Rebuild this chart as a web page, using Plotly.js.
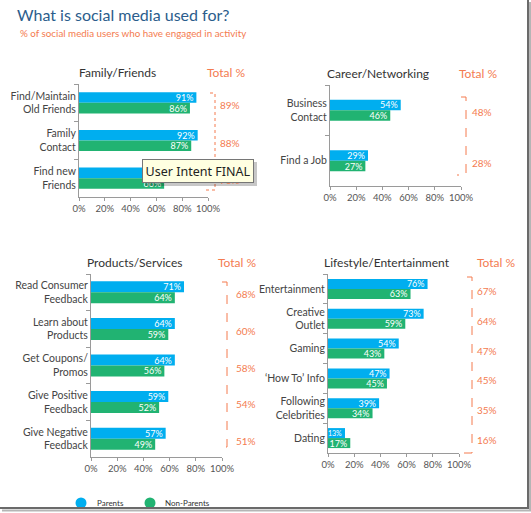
<!DOCTYPE html>
<html>
<head>
<meta charset="utf-8">
<script src="https://cdn.plot.ly/plotly-3.0.1.min.js"></script>
<style>html,body{margin:0;padding:0;background:#fff;}#chart{width:531px;height:513px;}</style>
</head>
<body>
<div id="chart"></div>
<script>
// ---- data ----
const famCats = ['Find/Maintain<br>Old Friends', 'Family<br>Contact', 'Find new<br>Friends'];
const famParents = [91, 92, 74];
const famNonParents = [86, 87, 66];
const famTotal = [89, 88, 70];

const carCats = ['Business<br>Contact', 'Find a Job'];
const carParents = [54, 29];
const carNonParents = [46, 27];
const carTotal = [48, 28];

const prodCats = ['Read Consumer<br>Feedback', 'Learn about<br>Products', 'Get Coupons/<br>Promos', 'Give Positive<br>Feedback', 'Give Negative<br>Feedback'];
const prodParents = [71, 64, 64, 59, 57];
const prodNonParents = [64, 59, 56, 52, 49];
const prodTotal = [68, 60, 58, 54, 51];

const lifeCats = ['Entertainment', 'Creative<br>Outlet', 'Gaming', '‘How To’ Info', 'Following<br>Celebrities', 'Dating'];
const lifeParents = [76, 73, 54, 47, 39, 13];
const lifeNonParents = [63, 59, 43, 45, 34, 17];
const lifeTotal = [67, 64, 47, 45, 35, 16];

const xTicks = [0, 20, 40, 60, 80, 100];
const xTickText = ['0%', '20%', '40%', '60%', '80%', '100%'];
const seriesNames = ['Parents', 'Non-Parents'];

// ---- styles ----
const BLUE = '#00aeef', GREEN = '#21b372', ORANGE = '#f47b4f', FONT = 'Lato, "Noto Sans", sans-serif';
const W = 531, H = 513;
const px = x => x / W;
const py = y => 1 - y / H;

const panels = [
  {cats: famCats, p: famParents, n: famNonParents, t: famTotal, title: 'Family/Friends', titleX: 117, totalX: 226, valX: 230,
   x0: 79, x1: 208, y0: 84, y1: 197, bar: 0.28, brX: 215, brY0: 93, brY1: 190, dash: 'dot'},
  {cats: carCats, p: carParents, n: carNonParents, t: carTotal, title: 'Career/Networking', titleX: 378, totalX: 478, valX: 482,
   x0: 330, x1: 461, y0: 85, y1: 186, bar: 0.21, brX: 466, brY0: 97, brY1: 175, dash: 'dash'},
  {cats: prodCats, p: prodParents, n: prodNonParents, t: prodTotal, title: 'Products/Services', titleX: 135, totalX: 237, valX: 246,
   x0: 91, x1: 222, y0: 274, y1: 457, bar: 0.30, brX: 227, brY0: 282, brY1: 447, dash: 'dash'},
  {cats: lifeCats, p: lifeParents, n: lifeNonParents, t: lifeTotal, title: 'Lifestyle/Entertainment', titleX: 387, totalX: 496, valX: 487,
   x0: 328, x1: 459, y0: 274, y1: 453, bar: 0.335, brX: 472, brY0: 277, brY1: 453, dash: 'dash'}
];

const labelSize = vals => vals.map(v => (v < 15 ? 7 : 9));

const data = [];
const layout = {
  width: W, height: H,
  margin: {l: 0, r: 0, t: 0, b: 0},
  paper_bgcolor: '#fff', plot_bgcolor: 'rgba(0,0,0,0)',
  font: {family: FONT, color: '#444'},
  showlegend: false,
  barmode: 'overlay',
  title: {text: 'What is social media used for?', x: px(17), xanchor: 'left', xref: 'paper', y: py(15), yanchor: 'middle', yref: 'paper',
          font: {size: 16, color: '#2b5d8c', family: FONT}},
  annotations: [
    {text: '% of social media users who have engaged in activity', xref: 'paper', yref: 'paper', x: px(18), y: py(33),
     xanchor: 'left', yanchor: 'middle', showarrow: false, font: {size: 9.8, color: ORANGE}}
  ],
  shapes: []
};

panels.forEach((pn, i) => {
  const k = i === 0 ? '' : String(i + 1);
  const xa = 'x' + k, ya = 'y' + k;
  const n = pn.cats.length;
  data.push({
    type: 'bar', orientation: 'h', name: seriesNames[0], x: pn.p, y: pn.cats, xaxis: xa, yaxis: ya,
    width: pn.bar, offset: -pn.bar, marker: {color: BLUE},
    text: pn.p.map(v => v + '%'), textposition: 'inside', insidetextanchor: 'end', constraintext: 'none',
    textfont: {color: '#fff', size: labelSize(pn.p), family: FONT}, hoverinfo: 'skip', cliponaxis: false
  });
  data.push({
    type: 'bar', orientation: 'h', name: seriesNames[1], x: pn.n, y: pn.cats, xaxis: xa, yaxis: ya,
    width: pn.bar, offset: 0, marker: {color: GREEN},
    text: pn.n.map(v => v + '%'), textposition: 'inside', insidetextanchor: 'end', constraintext: 'none',
    textfont: {color: '#fff', size: labelSize(pn.n), family: FONT}, hoverinfo: 'skip', cliponaxis: false
  });
  layout['xaxis' + k] = {
    domain: [px(pn.x0), px(pn.x1)], anchor: ya, range: [0, 100], tickmode: 'array', tickvals: xTicks, ticktext: xTickText,
    showline: true, linecolor: '#9a9a9a', linewidth: 1, ticks: 'outside', ticklen: 3, tickcolor: '#9a9a9a',
    tickfont: {size: 9.5, color: '#555'}, showgrid: false, zeroline: false, fixedrange: true
  };
  layout['yaxis' + k] = {
    domain: [py(pn.y1), py(pn.y0)], anchor: xa, type: 'category', categoryarray: pn.cats, categoryorder: 'array',
    range: [n - 0.5, -0.5], tickson: 'boundaries', ticks: 'outside', ticklen: 4, tickcolor: '#9a9a9a',
    showline: true, linecolor: '#9a9a9a', linewidth: 1, tickfont: {size: 10.5, color: '#444'},
    showgrid: false, zeroline: false, fixedrange: true
  };
  layout.annotations.push({text: pn.title, xref: 'paper', yref: 'paper', x: px(pn.titleX), y: py(pn.y0 - 12),
    xanchor: 'center', yanchor: 'middle', showarrow: false, font: {size: 12, color: '#333'}});
  layout.annotations.push({text: 'Total %', xref: 'paper', yref: 'paper', x: px(pn.totalX), y: py(pn.y0 - 12),
    xanchor: 'center', yanchor: 'middle', showarrow: false, font: {size: 12, color: ORANGE}});
  pn.t.forEach((v, j) => {
    layout.annotations.push({text: v + '%', xref: 'paper', yref: ya, x: px(pn.valX), y: pn.cats[j], yshift: -2,
      xanchor: 'center', yanchor: 'middle', showarrow: false, font: {size: 10, color: ORANGE}});
  });
  layout.shapes.push({type: 'path', xref: 'paper', yref: 'paper',
    path: `M ${px(pn.brX - 5)} ${py(pn.brY0)} L ${px(pn.brX)} ${py(pn.brY0)} L ${px(pn.brX)} ${py(pn.brY1)} L ${px(pn.brX - 9)} ${py(pn.brY1)}`,
    line: {color: ORANGE, width: 1, dash: pn.dash}});
});

// legend (drawn)
layout.shapes.push({type: 'circle', xref: 'paper', yref: 'paper', x0: px(75.5), x1: px(86.5), y0: py(508.5), y1: py(497.5), fillcolor: BLUE, line: {width: 0}});
layout.shapes.push({type: 'circle', xref: 'paper', yref: 'paper', x0: px(144.5), x1: px(155.5), y0: py(508.5), y1: py(497.5), fillcolor: GREEN, line: {width: 0}});
layout.annotations.push({text: seriesNames[0], xref: 'paper', yref: 'paper', x: px(95), y: py(503), xanchor: 'left', yanchor: 'middle', showarrow: false, font: {size: 8, color: '#333'}});
layout.annotations.push({text: seriesNames[1], xref: 'paper', yref: 'paper', x: px(163), y: py(503), xanchor: 'left', yanchor: 'middle', showarrow: false, font: {size: 8, color: '#333'}});

// tooltip overlay from the screenshot
layout.shapes.push({type: 'rect', xref: 'paper', yref: 'paper', x0: px(145), x1: px(257), y0: py(186), y1: py(162), fillcolor: 'rgba(0,0,0,0.22)', line: {width: 0}, layer: 'above'});
layout.annotations.push({text: 'User Intent FINAL', xref: 'paper', yref: 'paper', x: px(198), y: py(171), xanchor: 'center', yanchor: 'middle',
  showarrow: false, width: 108, height: 20, borderpad: 1, bgcolor: '#ffffe1', bordercolor: '#767676', borderwidth: 1,
  font: {size: 12.5, color: '#222', family: '"Noto Sans", "Open Sans", sans-serif'}});

// screenshot frame
layout.shapes.push({type: 'line', xref: 'paper', yref: 'paper', x0: px(528), x1: px(528), y0: py(0), y1: py(509), line: {color: '#6a6a6a', width: 2}, layer: 'above'});
layout.shapes.push({type: 'line', xref: 'paper', yref: 'paper', x0: px(530), x1: px(530), y0: py(2), y1: py(511), line: {color: '#b5b5b5', width: 2}, layer: 'above'});
layout.shapes.push({type: 'line', xref: 'paper', yref: 'paper', x0: px(0), x1: px(529), y0: py(508), y1: py(508), line: {color: '#6a6a6a', width: 2}, layer: 'above'});
layout.shapes.push({type: 'line', xref: 'paper', yref: 'paper', x0: px(2), x1: px(531), y0: py(510.5), y1: py(510.5), line: {color: '#b5b5b5', width: 2}, layer: 'above'});

Plotly.newPlot('chart', data, layout, {displayModeBar: false, staticPlot: true});
</script>
</body>
</html>
